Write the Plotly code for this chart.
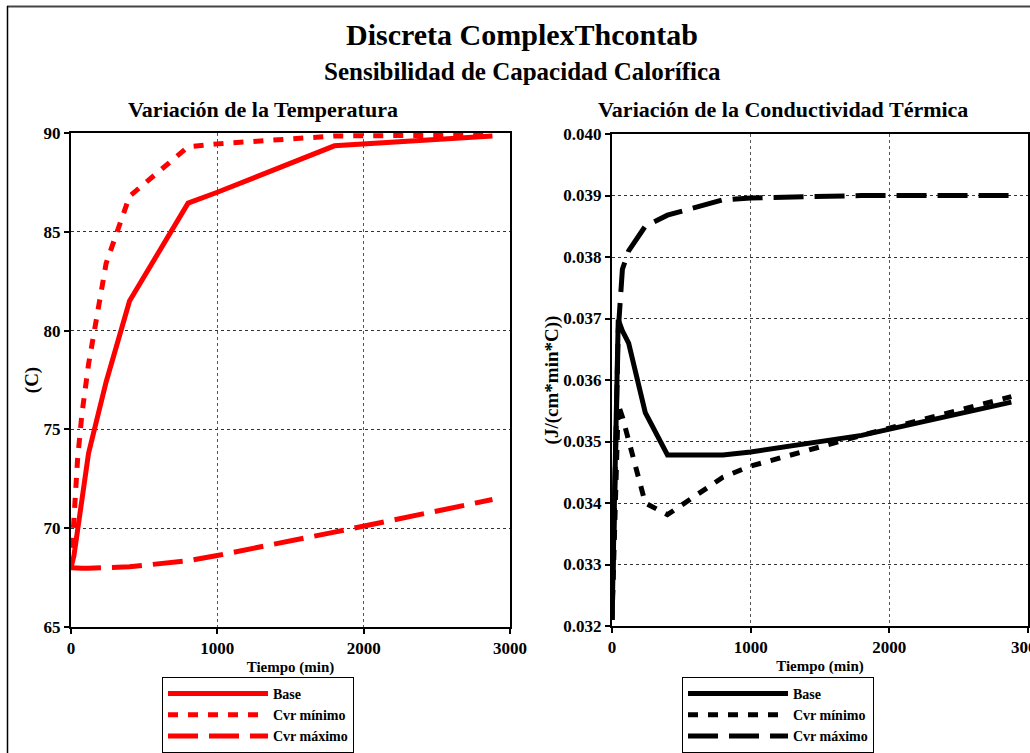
import plotly.graph_objects as go

# Time samples (min)
tiempo = [0, 20, 45, 75, 120, 240, 400, 800, 1000, 1800, 2880]

# Temperature (C)
temp_base = [68.0, 68.6, 69.9, 71.6, 73.8, 77.4, 81.5, 86.45, 87.0, 89.35, 89.85]
temp_cvr_min = [68.0, 70.3, 73.5, 75.8, 78.3, 83.4, 86.8, 89.3, 89.45, 89.85, 89.9]
temp_cvr_max = [68.0, 67.98, 67.97, 67.97, 67.97, 67.98, 68.05, 68.35, 68.62, 69.8, 71.45]

# Thermal conductivity (J/(cm*min*C))
k_base = [0.0321, 0.0343, 0.03698, 0.0368, 0.0366, 0.03547, 0.03478, 0.03478, 0.03483, 0.0351, 0.03564]
k_cvr_min = [0.0321, 0.0340, 0.0356, 0.0354, 0.0350, 0.0340, 0.03381, 0.03442, 0.0346, 0.0351, 0.03573]
k_cvr_max = [0.0321, 0.0345, 0.0368, 0.0378, 0.0381, 0.0385, 0.03868, 0.03893, 0.03896, 0.0390, 0.0390]

series_names = ["Base", "Cvr mínimo", "Cvr máximo"]
dashes = ["solid", "10px,10px", "30px,11px"]

W, H = 1030, 753
SERIF = "Liberation Serif"


def px_x(p):
    return p / W


def px_y(p):
    return 1 - p / H


fig = go.Figure()

for name, ys, dash in zip(series_names, [temp_base, temp_cvr_min, temp_cvr_max], dashes):
    fig.add_trace(go.Scatter(
        x=tiempo, y=ys, name=name, mode="lines",
        line=dict(color="#ff0000", width=5, dash=dash),
        xaxis="x", yaxis="y", legend="legend",
    ))

for name, ys, dash in zip(series_names, [k_base, k_cvr_min, k_cvr_max], dashes):
    fig.add_trace(go.Scatter(
        x=tiempo, y=ys, name=name, mode="lines",
        line=dict(color="#000000", width=5, dash=dash),
        xaxis="x2", yaxis="y2", legend="legend2",
    ))

tick_font = dict(family=SERIF, size=17, color="black", weight="bold")
xtitle_font = dict(family=SERIF, size=15, color="black", weight="bold")
ytitle_font = dict(family=SERIF, size=19, color="black", weight="bold")

common_x = dict(
    range=[0, 3000], dtick=1000, tick0=0, automargin=False,
    ticklabeloverflow="allow",
    showline=True, linecolor="black", linewidth=2, mirror=True,
    ticks="outside", ticklen=5, tickwidth=2, tickcolor="black",
    showgrid=True, gridcolor="#555555", griddash="dot", gridwidth=1,
    zeroline=False, tickfont=tick_font,
    title=dict(text="Tiempo (min)", font=xtitle_font, standoff=4),
)
common_y = dict(
    automargin=False,
    showline=True, linecolor="black", linewidth=2, mirror=True,
    ticks="outside", ticklen=5, tickwidth=2, tickcolor="black",
    showgrid=True, gridcolor="#333333", griddash="dot", gridwidth=1,
    zeroline=False, tickfont=tick_font,
)

legend_common = dict(
    bgcolor="white", bordercolor="black", borderwidth=1,
    font=dict(family=SERIF, size=14, color="black", weight="bold"),
    itemwidth=100, tracegroupgap=0,
    xanchor="left", yanchor="top",
)

fig.update_layout(
    width=W, height=H,
    margin=dict(l=0, r=0, t=0, b=0, autoexpand=False),
    paper_bgcolor="white", plot_bgcolor="white",
    xaxis=dict(domain=[px_x(71), px_x(510)], anchor="y", **common_x),
    yaxis=dict(domain=[px_y(627), px_y(133)], anchor="x", range=[65, 90], dtick=5,
               title=dict(text="(C)", font=ytitle_font, standoff=0), **common_y),
    xaxis2=dict(domain=[px_x(612), px_x(1028)], anchor="y2", **common_x),
    yaxis2=dict(domain=[px_y(626), px_y(134)], anchor="x2", range=[0.032, 0.040], dtick=0.001,
                tickformat=".3f",
                title=dict(text="(J/(cm*min*C))", font=ytitle_font, standoff=0), **common_y),
    legend=dict(x=px_x(162), y=px_y(677), **legend_common),
    legend2=dict(x=px_x(682), y=px_y(677), **legend_common),
    showlegend=True,
)

annotations = [
    dict(text="Discreta ComplexThcontab", x=px_x(522), y=px_y(35),
         font=dict(family=SERIF, size=30, color="black", weight="bold")),
    dict(text="Sensibilidad de Capacidad Calorífica", x=px_x(522), y=px_y(71),
         font=dict(family=SERIF, size=25, color="black", weight="bold")),
    dict(text="Variación de la Temperatura", x=px_x(263), y=px_y(110),
         font=dict(family=SERIF, size=22, color="black", weight="bold")),
    dict(text="Variación de la Conductividad Térmica", x=px_x(783), y=px_y(110),
         font=dict(family=SERIF, size=22, color="black", weight="bold")),
]
for a in annotations:
    fig.add_annotation(xref="paper", yref="paper", showarrow=False,
                       xanchor="center", yanchor="middle", **a)

# Page frame
fig.add_shape(type="line", xref="paper", yref="paper",
              x0=px_x(7), x1=1, y0=px_y(6.5), y1=px_y(6.5),
              line=dict(color="#444444", width=2))
fig.add_shape(type="line", xref="paper", yref="paper",
              x0=px_x(7.5), x1=px_x(7.5), y0=0, y1=px_y(6),
              line=dict(color="black", width=1.5))

fig.write_html("out.html")
